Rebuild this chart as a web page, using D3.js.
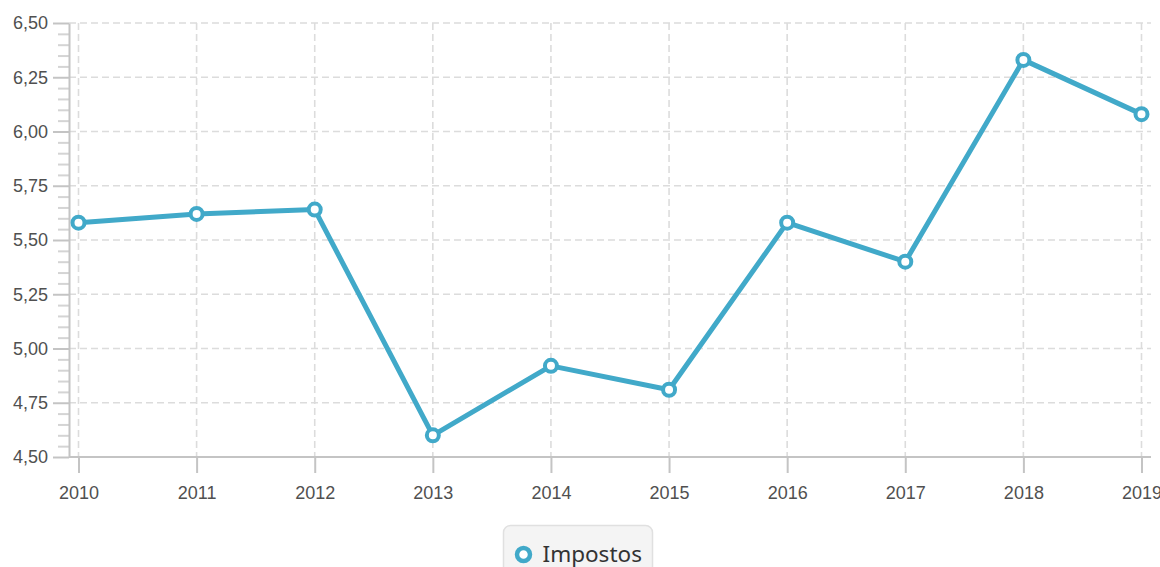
<!DOCTYPE html>
<html>
<head>
<meta charset="utf-8">
<script src="https://cdn.jsdelivr.net/npm/d3@7"></script>
<style>
  html, body { margin: 0; padding: 0; background: #fff; }
  svg { display: block; font-family: "Noto Sans", "Open Sans", sans-serif; }
  .grid line { stroke: #dcdcdc; stroke-width: 1.6; stroke-dasharray: 7,4; }
  .axis path, .axis line { stroke: #c4c4c4; stroke-width: 2; }
  .axis text { fill: #505050; font-size: 18px; }
  .minor line { stroke: #d4d4d4; stroke-width: 2; }
  .minor path { display: none; }
</style>
</head>
<body>
<div id="chart"></div>
<script>
// values
const years = ["2010", "2011", "2012", "2013", "2014", "2015", "2016", "2017", "2018", "2019"];
const impostos = [5.58, 5.62, 5.64, 4.60, 4.92, 4.81, 5.58, 5.40, 6.33, 6.08];
const yTicks = [4.5, 4.75, 5.0, 5.25, 5.5, 5.75, 6.0, 6.25, 6.5];
const seriesName = "Impostos";
const lineColor = "#41a9c9";

const width = 1160, height = 567;
const plot = { left: 69, right: 1151, top: 23, bottom: 457 };

const ptBr = d3.formatLocale({ decimal: ",", thousands: ".", grouping: [3], currency: ["R$", ""] });
const fmt = ptBr.format(".2f");

const svg = d3.select("#chart").append("svg")
	.attr("width", width)
	.attr("height", height);

const x = d3.scalePoint()
	.domain(years)
	.range([plot.left + 9.5, plot.right - 9.5]);

const y = d3.scaleLinear()
	.domain([4.5, 6.5])
	.range([plot.bottom, plot.top]);

// dashed grid
const grid = svg.append("g").attr("class", "grid");
grid.selectAll("line.h")
	.data(yTicks.filter(d => d > 4.5))
	.enter().append("line")
	.attr("class", "h")
	.attr("x1", plot.left)
	.attr("x2", plot.right)
	.attr("y1", d => y(d))
	.attr("y2", d => y(d));
grid.selectAll("line.v")
	.data(years)
	.enter().append("line")
	.attr("class", "v")
	.attr("x1", d => x(d))
	.attr("x2", d => x(d))
	.attr("y1", plot.top)
	.attr("y2", plot.bottom);

// minor ticks on y axis
const minorTicks = y.ticks(40).filter(v => !yTicks.some(t => Math.abs(t - v) < 1e-6));
svg.append("g")
	.attr("class", "minor")
	.attr("transform", "translate(" + plot.left + ",0)")
	.call(d3.axisLeft(y).tickValues(minorTicks).tickSize(11).tickFormat(""));

// y axis
const yAxis = svg.append("g")
	.attr("class", "axis")
	.attr("transform", "translate(" + plot.left + ",0)")
	.call(d3.axisLeft(y).tickValues(yTicks).tickSize(16).tickPadding(5).tickFormat(fmt).tickSizeOuter(0));

// x axis
const xAxis = svg.append("g")
	.attr("class", "axis")
	.attr("transform", "translate(0," + plot.bottom + ")")
	.call(d3.axisBottom(x).tickSize(16).tickPadding(13).tickSizeOuter(0));
xAxis.select(".domain").attr("d", "M" + plot.left + ",0H" + plot.right);

// line
const line = d3.line()
	.x((d, i) => x(years[i]))
	.y(d => y(d));

svg.append("path")
	.datum(impostos)
	.attr("fill", "none")
	.attr("stroke", lineColor)
	.attr("stroke-width", 5)
	.attr("stroke-linejoin", "round")
	.attr("d", line);

svg.append("g").selectAll("circle")
	.data(impostos)
	.enter().append("circle")
	.attr("cx", (d, i) => x(years[i]))
	.attr("cy", d => y(d))
	.attr("r", 6)
	.attr("fill", "#fff")
	.attr("stroke", lineColor)
	.attr("stroke-width", 4);

// legend
const legend = svg.append("g").attr("transform", "translate(503.5,525.5)");
legend.append("rect")
	.attr("width", 149)
	.attr("height", 60)
	.attr("rx", 7)
	.attr("fill", "#f4f4f4")
	.attr("stroke", "#e0e0e0")
	.attr("stroke-width", 1.5);
legend.append("circle")
	.attr("cx", 20)
	.attr("cy", 29)
	.attr("r", 6.5)
	.attr("fill", "#fff")
	.attr("stroke", lineColor)
	.attr("stroke-width", 4.5);
legend.append("text")
	.attr("x", 39)
	.attr("y", 36.5)
	.attr("fill", "#333")
	.style("font-size", "22.5px")
	.text(seriesName);
</script>
</body>
</html>
